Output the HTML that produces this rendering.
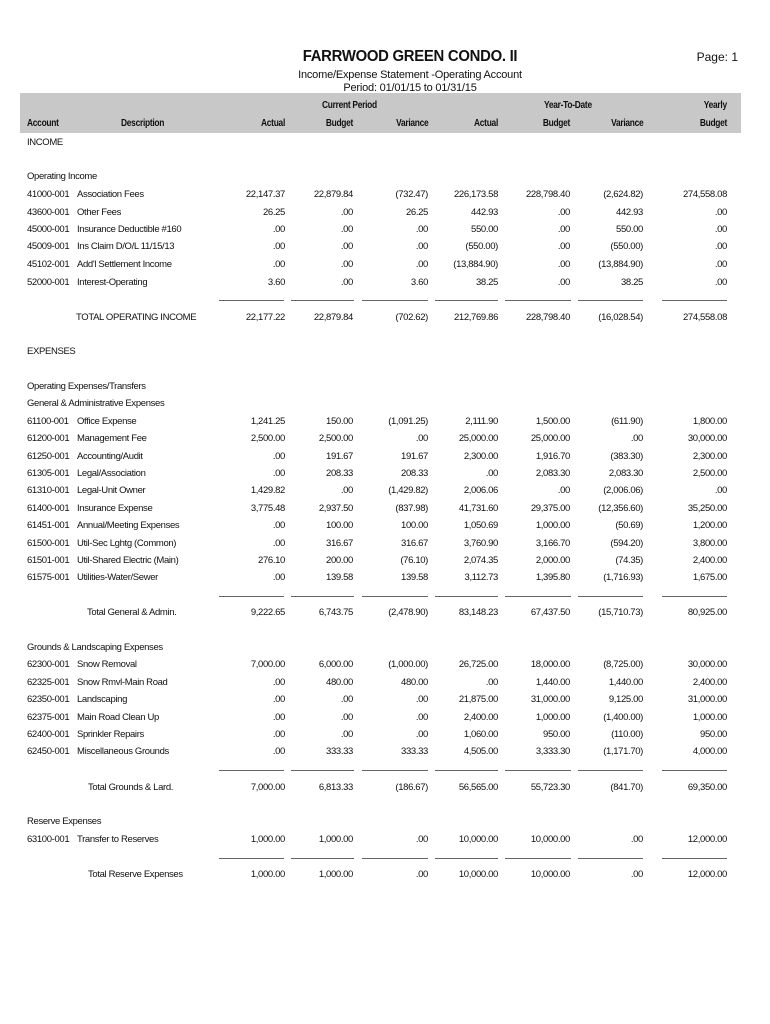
<!DOCTYPE html>
<html><head><meta charset="utf-8"><style>
body{margin:0;background:#fff;}
#p{position:relative;width:770px;height:1024px;font-family:"Liberation Sans",sans-serif;color:#111;font-size:9.5px;letter-spacing:-0.35px;}
.r{position:absolute;left:0;width:770px;height:12px;line-height:12px;}
.r span{position:absolute;white-space:nowrap;}
.a{left:27px}.d{left:77px}
.c1{right:485px}.c2{right:417px}.c3{right:342px}.c4{right:272px}.c5{right:200px}.c6{right:127px}.c7{right:43px}
.t{position:absolute;white-space:nowrap;}
.h span{font-weight:bold;font-size:10.5px;transform:scaleX(0.8);transform-origin:right;}
</style></head><body><div id="p">
<div class="t" style="left:0;width:820px;text-align:center;top:48px;font-size:16px;font-weight:bold;letter-spacing:-0.3px;transform:scaleX(0.93)">FARRWOOD GREEN CONDO. II</div>
<div class="t" style="right:32px;top:50px;font-size:12px;letter-spacing:0">Page: 1</div>
<div class="t" style="left:0;width:820px;text-align:center;top:69px;font-size:11px;letter-spacing:-0.2px">Income/Expense Statement -Operating Account</div>
<div class="t" style="left:0;width:820px;text-align:center;top:82px;font-size:11px;letter-spacing:-0.2px">Period: 01/01/15 to 01/31/15</div>
<div style="position:absolute;left:20px;top:93px;width:721px;height:40px;background:#c8c8c8"></div>
<div class="r h" style="top:99px"><span style="left:322px;transform-origin:left">Current Period</span><span style="left:544px;transform-origin:left">Year-To-Date</span><span class="c7">Yearly</span></div>
<div class="r h" style="top:117px"><span style="left:27px;transform-origin:left">Account</span><span style="left:121px;transform-origin:left">Description</span><span class="c1">Actual</span><span class="c2">Budget</span><span class="c3">Variance</span><span class="c4">Actual</span><span class="c5">Budget</span><span class="c6">Variance</span><span class="c7">Budget</span></div>
<div class="r" style="top:137px"><span class="a">INCOME</span></div>
<div class="r" style="top:171px"><span class="a">Operating Income</span></div>
<div class="r" style="top:189px"><span class="a">41000-001</span><span class="d">Association Fees</span><span class="c1">22,147.37</span><span class="c2">22,879.84</span><span class="c3">(732.47)</span><span class="c4">226,173.58</span><span class="c5">228,798.40</span><span class="c6">(2,624.82)</span><span class="c7">274,558.08</span></div>
<div class="r" style="top:207px"><span class="a">43600-001</span><span class="d">Other Fees</span><span class="c1">26.25</span><span class="c2">.00</span><span class="c3">26.25</span><span class="c4">442.93</span><span class="c5">.00</span><span class="c6">442.93</span><span class="c7">.00</span></div>
<div class="r" style="top:224px"><span class="a">45000-001</span><span class="d">Insurance Deductible #160</span><span class="c1">.00</span><span class="c2">.00</span><span class="c3">.00</span><span class="c4">550.00</span><span class="c5">.00</span><span class="c6">550.00</span><span class="c7">.00</span></div>
<div class="r" style="top:241px"><span class="a">45009-001</span><span class="d">Ins Claim D/O/L 11/15/13</span><span class="c1">.00</span><span class="c2">.00</span><span class="c3">.00</span><span class="c4">(550.00)</span><span class="c5">.00</span><span class="c6">(550.00)</span><span class="c7">.00</span></div>
<div class="r" style="top:259px"><span class="a">45102-001</span><span class="d">Add'l Settlement Income</span><span class="c1">.00</span><span class="c2">.00</span><span class="c3">.00</span><span class="c4">(13,884.90)</span><span class="c5">.00</span><span class="c6">(13,884.90)</span><span class="c7">.00</span></div>
<div class="r" style="top:277px"><span class="a">52000-001</span><span class="d">Interest-Operating</span><span class="c1">3.60</span><span class="c2">.00</span><span class="c3">3.60</span><span class="c4">38.25</span><span class="c5">.00</span><span class="c6">38.25</span><span class="c7">.00</span></div>
<div class="r" style="top:312px"><span style="left:76px">TOTAL OPERATING INCOME</span><span class="c1">22,177.22</span><span class="c2">22,879.84</span><span class="c3">(702.62)</span><span class="c4">212,769.86</span><span class="c5">228,798.40</span><span class="c6">(16,028.54)</span><span class="c7">274,558.08</span></div>
<div class="r" style="top:346px"><span class="a">EXPENSES</span></div>
<div class="r" style="top:381px"><span class="a">Operating Expenses/Transfers</span></div>
<div class="r" style="top:398px"><span class="a">General &amp; Administrative Expenses</span></div>
<div class="r" style="top:416px"><span class="a">61100-001</span><span class="d">Office Expense</span><span class="c1">1,241.25</span><span class="c2">150.00</span><span class="c3">(1,091.25)</span><span class="c4">2,111.90</span><span class="c5">1,500.00</span><span class="c6">(611.90)</span><span class="c7">1,800.00</span></div>
<div class="r" style="top:433px"><span class="a">61200-001</span><span class="d">Management Fee</span><span class="c1">2,500.00</span><span class="c2">2,500.00</span><span class="c3">.00</span><span class="c4">25,000.00</span><span class="c5">25,000.00</span><span class="c6">.00</span><span class="c7">30,000.00</span></div>
<div class="r" style="top:451px"><span class="a">61250-001</span><span class="d">Accounting/Audit</span><span class="c1">.00</span><span class="c2">191.67</span><span class="c3">191.67</span><span class="c4">2,300.00</span><span class="c5">1,916.70</span><span class="c6">(383.30)</span><span class="c7">2,300.00</span></div>
<div class="r" style="top:468px"><span class="a">61305-001</span><span class="d">Legal/Association</span><span class="c1">.00</span><span class="c2">208.33</span><span class="c3">208.33</span><span class="c4">.00</span><span class="c5">2,083.30</span><span class="c6">2,083.30</span><span class="c7">2,500.00</span></div>
<div class="r" style="top:485px"><span class="a">61310-001</span><span class="d">Legal-Unit Owner</span><span class="c1">1,429.82</span><span class="c2">.00</span><span class="c3">(1,429.82)</span><span class="c4">2,006.06</span><span class="c5">.00</span><span class="c6">(2,006.06)</span><span class="c7">.00</span></div>
<div class="r" style="top:503px"><span class="a">61400-001</span><span class="d">Insurance Expense</span><span class="c1">3,775.48</span><span class="c2">2,937.50</span><span class="c3">(837.98)</span><span class="c4">41,731.60</span><span class="c5">29,375.00</span><span class="c6">(12,356.60)</span><span class="c7">35,250.00</span></div>
<div class="r" style="top:520px"><span class="a">61451-001</span><span class="d">Annual/Meeting Expenses</span><span class="c1">.00</span><span class="c2">100.00</span><span class="c3">100.00</span><span class="c4">1,050.69</span><span class="c5">1,000.00</span><span class="c6">(50.69)</span><span class="c7">1,200.00</span></div>
<div class="r" style="top:538px"><span class="a">61500-001</span><span class="d">Util-Sec Lghtg (Common)</span><span class="c1">.00</span><span class="c2">316.67</span><span class="c3">316.67</span><span class="c4">3,760.90</span><span class="c5">3,166.70</span><span class="c6">(594.20)</span><span class="c7">3,800.00</span></div>
<div class="r" style="top:555px"><span class="a">61501-001</span><span class="d">Util-Shared Electric (Main)</span><span class="c1">276.10</span><span class="c2">200.00</span><span class="c3">(76.10)</span><span class="c4">2,074.35</span><span class="c5">2,000.00</span><span class="c6">(74.35)</span><span class="c7">2,400.00</span></div>
<div class="r" style="top:572px"><span class="a">61575-001</span><span class="d">Utilities-Water/Sewer</span><span class="c1">.00</span><span class="c2">139.58</span><span class="c3">139.58</span><span class="c4">3,112.73</span><span class="c5">1,395.80</span><span class="c6">(1,716.93)</span><span class="c7">1,675.00</span></div>
<div class="r" style="top:607px"><span style="left:87px">Total General &amp; Admin.</span><span class="c1">9,222.65</span><span class="c2">6,743.75</span><span class="c3">(2,478.90)</span><span class="c4">83,148.23</span><span class="c5">67,437.50</span><span class="c6">(15,710.73)</span><span class="c7">80,925.00</span></div>
<div class="r" style="top:642px"><span class="a">Grounds &amp; Landscaping Expenses</span></div>
<div class="r" style="top:659px"><span class="a">62300-001</span><span class="d">Snow Removal</span><span class="c1">7,000.00</span><span class="c2">6,000.00</span><span class="c3">(1,000.00)</span><span class="c4">26,725.00</span><span class="c5">18,000.00</span><span class="c6">(8,725.00)</span><span class="c7">30,000.00</span></div>
<div class="r" style="top:677px"><span class="a">62325-001</span><span class="d">Snow Rmvl-Main Road</span><span class="c1">.00</span><span class="c2">480.00</span><span class="c3">480.00</span><span class="c4">.00</span><span class="c5">1,440.00</span><span class="c6">1,440.00</span><span class="c7">2,400.00</span></div>
<div class="r" style="top:694px"><span class="a">62350-001</span><span class="d">Landscaping</span><span class="c1">.00</span><span class="c2">.00</span><span class="c3">.00</span><span class="c4">21,875.00</span><span class="c5">31,000.00</span><span class="c6">9,125.00</span><span class="c7">31,000.00</span></div>
<div class="r" style="top:712px"><span class="a">62375-001</span><span class="d">Main Road Clean Up</span><span class="c1">.00</span><span class="c2">.00</span><span class="c3">.00</span><span class="c4">2,400.00</span><span class="c5">1,000.00</span><span class="c6">(1,400.00)</span><span class="c7">1,000.00</span></div>
<div class="r" style="top:729px"><span class="a">62400-001</span><span class="d">Sprinkler Repairs</span><span class="c1">.00</span><span class="c2">.00</span><span class="c3">.00</span><span class="c4">1,060.00</span><span class="c5">950.00</span><span class="c6">(110.00)</span><span class="c7">950.00</span></div>
<div class="r" style="top:746px"><span class="a">62450-001</span><span class="d">Miscellaneous Grounds</span><span class="c1">.00</span><span class="c2">333.33</span><span class="c3">333.33</span><span class="c4">4,505.00</span><span class="c5">3,333.30</span><span class="c6">(1,171.70)</span><span class="c7">4,000.00</span></div>
<div class="r" style="top:782px"><span style="left:88px">Total Grounds &amp; Lard.</span><span class="c1">7,000.00</span><span class="c2">6,813.33</span><span class="c3">(186.67)</span><span class="c4">56,565.00</span><span class="c5">55,723.30</span><span class="c6">(841.70)</span><span class="c7">69,350.00</span></div>
<div class="r" style="top:816px"><span class="a">Reserve Expenses</span></div>
<div class="r" style="top:834px"><span class="a">63100-001</span><span class="d">Transfer to Reserves</span><span class="c1">1,000.00</span><span class="c2">1,000.00</span><span class="c3">.00</span><span class="c4">10,000.00</span><span class="c5">10,000.00</span><span class="c6">.00</span><span class="c7">12,000.00</span></div>
<div class="r" style="top:869px"><span style="left:88px">Total Reserve Expenses</span><span class="c1">1,000.00</span><span class="c2">1,000.00</span><span class="c3">.00</span><span class="c4">10,000.00</span><span class="c5">10,000.00</span><span class="c6">.00</span><span class="c7">12,000.00</span></div>
<svg style="position:absolute;left:0;top:0" width="770" height="1024">
<g stroke="#666" stroke-width="1">
<path d="M219 300.5H284M291 300.5H354M362 300.5H428M435 300.5H498M505 300.5H571M578 300.5H643M662 300.5H727"/>
<path d="M219 596.5H284M291 596.5H354M362 596.5H428M435 596.5H498M505 596.5H571M578 596.5H643M662 596.5H727"/>
<path d="M219 770.5H284M291 770.5H354M362 770.5H428M435 770.5H498M505 770.5H571M578 770.5H643M662 770.5H727"/>
<path d="M219 858.5H284M291 858.5H354M362 858.5H428M435 858.5H498M505 858.5H571M578 858.5H643M662 858.5H727"/>
</g></svg>
</div></body></html>
